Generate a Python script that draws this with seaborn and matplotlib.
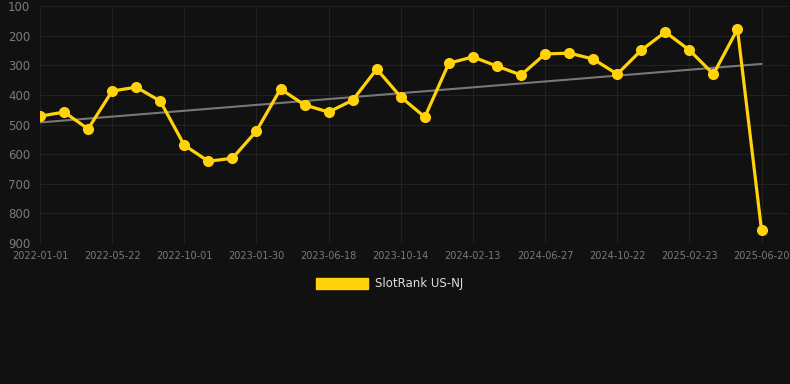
import numpy as np
import pandas as pd
import matplotlib
matplotlib.use("Agg")
import matplotlib.pyplot as plt
import seaborn as sns
from matplotlib.patches import Patch

# rank per observation (lower = better), one point every ~6 weeks
ranks = [472, 458, 515, 387, 374, 421, 570, 624, 614, 522,
         380, 434, 458, 418, 313, 407, 475, 293, 272, 303,
         333, 262, 259, 279, 330, 249, 188, 249, 330, 178, 857]
tick_dates = ["2022-01-01", "2022-05-22", "2022-10-01", "2023-01-30",
              "2023-06-18", "2023-10-14", "2024-02-13", "2024-06-27",
              "2024-10-22", "2025-02-23", "2025-06-20"]
y_ticks = [100, 200, 300, 400, 500, 600, 700, 800, 900]
series_name = "SlotRank US-NJ"

BG = "#111111"
GOLD = "#FFD20A"
GRID = "#222222"
TXT = "#7a7a7a"

df = pd.DataFrame({"idx": np.arange(len(ranks)), "rank": ranks})

sns.set_theme(style="dark")
plt.rcParams["font.family"] = ["DejaVu Sans"]

fig = plt.figure(figsize=(7.9, 3.84), dpi=100, facecolor=BG)
ax = fig.add_axes([40 / 790, 1 - 243 / 384, 748 / 790, 237 / 384])
ax.set_facecolor(BG)

# trend line
coef = np.polyfit(df["idx"], df["rank"], 1)
ax.plot(df["idx"], np.polyval(coef, df["idx"]), color="#777777", lw=1.5, zorder=2)

sns.lineplot(data=df, x="idx", y="rank", ax=ax, color=GOLD, lw=2.3,
             marker="o", markersize=8, markeredgewidth=0, zorder=3)

ax.set_xlim(0, 31.1)
ax.set_ylim(900, 100)
ax.set_yticks(y_ticks)
ax.set_xticks(df["idx"][::3])
ax.set_xticklabels(tick_dates)
ax.set_xlabel("")
ax.set_ylabel("")
ax.grid(True, color=GRID, lw=0.8)
for s in ax.spines.values():
    s.set_visible(False)
ax.tick_params(axis="y", colors=TXT, labelsize=8.5, length=0, pad=7)
ax.tick_params(axis="x", colors=TXT, labelsize=7, length=0, pad=6)

fig.legend(handles=[Patch(facecolor=GOLD, edgecolor=GOLD)], labels=[series_name],
           loc="center", bbox_to_anchor=(390 / 790, 1 - 284 / 384), frameon=False,
           labelcolor="#dddddd", fontsize=8.5, handlelength=4.4, handleheight=1.1,
           handletextpad=0.6)

fig.savefig("out.png", dpi=100, facecolor=BG)
